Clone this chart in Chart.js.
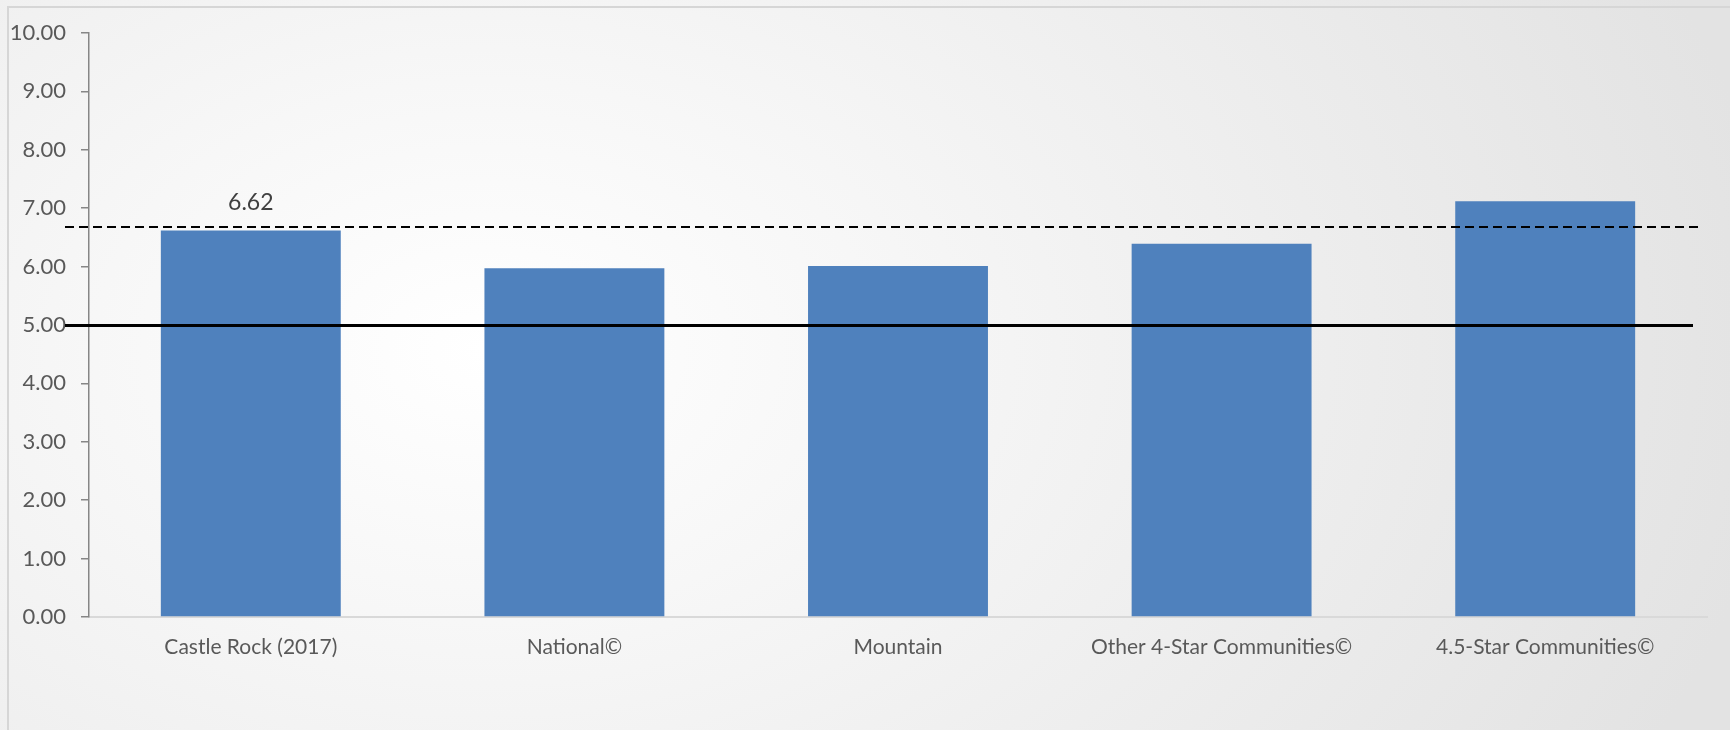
<!DOCTYPE html>
<html>
<head>
<meta charset="utf-8">
<script src="https://cdn.jsdelivr.net/npm/chart.js@4.4.0/dist/chart.umd.min.js"></script>
<style>
  html, body { margin: 0; padding: 0; }
  body {
    width: 1730px; height: 730px; overflow: hidden; position: relative;
    background: radial-gradient(ellipse 1300px 900px at 28% 48%, #ffffff 0%, #f7f7f7 30%, #ededed 65%, #e3e3e3 100%);
  }
  #frame {
    position: absolute; left: 7px; top: 6px; right: -10px; bottom: -10px;
    border-left: 2px solid #d6d6d6; border-top: 2px solid #d6d6d6;
  }
  #wrap { position: absolute; left: 0; top: 0; width: 1730px; height: 730px; }
</style>
</head>
<body>
<div id="frame"></div>
<div id="wrap"><canvas id="c" width="1730" height="730"></canvas></div>
<script>
const categories = ['Castle Rock (2017)', 'National©', 'Mountain', 'Other 4-Star Communities©', '4.5-Star Communities©'];
const values = [6.62, 5.97, 6.01, 6.39, 7.12];
const labeledBars = [0];
const yTicks = [0, 1, 2, 3, 4, 5, 6, 7, 8, 9, 10];
const solidLineValue = 5.0;
const dashedLineValue = 6.68;

const FONT = "Lato, 'Open Sans', sans-serif";

const refLines = {
  id: 'refLines',
  afterDatasetsDraw(chart) {
    const { ctx, chartArea, scales } = chart;
    const y = scales.y;
    ctx.save();
    ctx.strokeStyle = '#000';
    ctx.lineWidth = 2;
    ctx.setLineDash([9, 5]);
    const yd = Math.round(y.getPixelForValue(dashedLineValue));
    ctx.beginPath();
    ctx.moveTo(chartArea.left - 24, yd);
    ctx.lineTo(chartArea.right - 5, yd);
    ctx.stroke();
    ctx.setLineDash([]);
    ctx.lineWidth = 3;
    const ys = Math.round(y.getPixelForValue(solidLineValue)) + 0.5;
    ctx.beginPath();
    ctx.moveTo(chartArea.left - 24, ys);
    ctx.lineTo(chartArea.right - 14, ys);
    ctx.stroke();
    const meta = chart.getDatasetMeta(0);
    ctx.fillStyle = '#404040';
    ctx.font = "23px " + FONT;
    ctx.textAlign = 'center';
    ctx.textBaseline = 'middle';
    labeledBars.forEach(i => {
      const el = meta.data[i];
      ctx.fillText(values[i].toFixed(2), el.x, el.y - 28);
    });
    ctx.restore();
  }
};

new Chart(document.getElementById('c'), {
  type: 'bar',
  data: {
    labels: categories,
    datasets: [{
      data: values,
      backgroundColor: '#4f81bd',
      borderWidth: 0,
      barPercentage: 0.556,
      categoryPercentage: 1.0
    }]
  },
  options: {
    responsive: false,
    animation: false,
    devicePixelRatio: 1,
    layout: { padding: { left: 0, right: 23, top: 33, bottom: 0 } },
    plugins: { legend: { display: false }, tooltip: { enabled: false } },
    scales: {
      x: {
        grid: { display: false, drawTicks: false },
        border: { display: true, color: '#d9d9d9', width: 2 },
        ticks: { color: '#595959', font: { family: FONT, size: 21 }, padding: 18, maxRotation: 0, autoSkip: false },
        afterFit: s => { s.height = 113; }
      },
      y: {
        min: 0, max: 10,
        afterBuildTicks: s => { s.ticks = yTicks.map(v => ({ value: v })); },
        grid: { drawOnChartArea: false, drawTicks: true, tickLength: 8, color: '#868686', lineWidth: 1.5 },
        border: { display: true, color: '#868686', width: 1.5 },
        ticks: { color: '#595959', font: { family: FONT, size: 22 }, padding: 15, callback: v => Number(v).toFixed(2) },
        afterFit: s => { s.width = 89; }
      }
    }
  },
  plugins: [refLines]
});
</script>
</body>
</html>
